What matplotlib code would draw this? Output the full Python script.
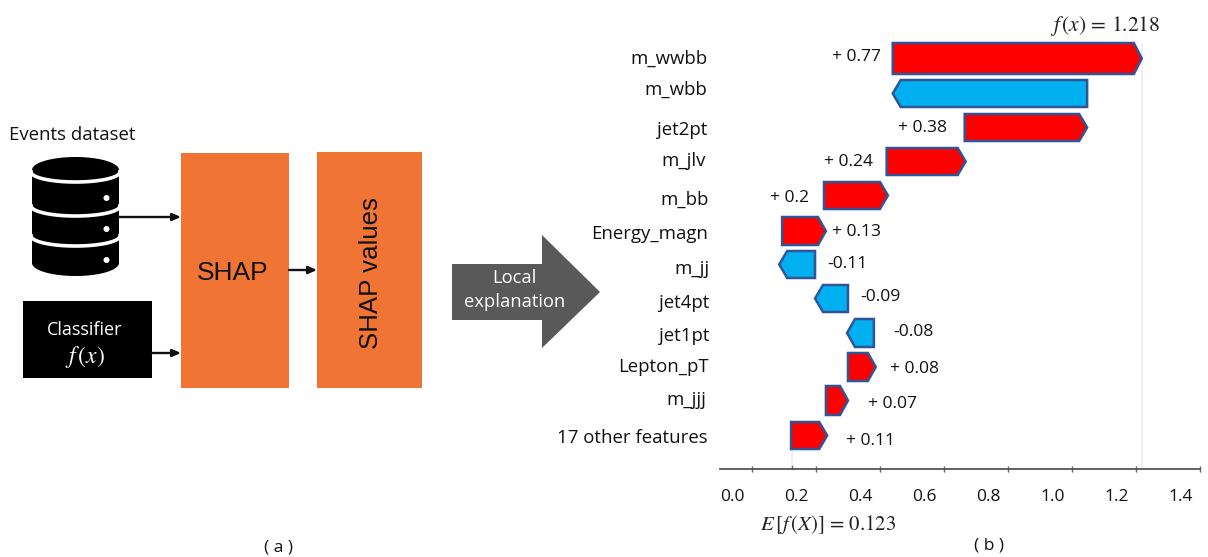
import numpy as np
import matplotlib
matplotlib.use("Agg")
import matplotlib.pyplot as plt
from matplotlib.patches import Rectangle, Polygon, Circle
from matplotlib.transforms import ScaledTranslation

plt.rcParams['font.family'] = ['Open Sans', 'DejaVu Sans']
plt.rcParams['mathtext.fontset'] = 'stix'

# ---------- data ----------
features = ['m_wwbb', 'm_wbb', 'jet2pt', 'm_jlv', 'm_bb', 'Energy_magn', 'm_jj',
            'jet4pt', 'jet1pt', 'Lepton_pT', 'm_jjj', '17 other features']
bar_start = [0.439, 1.047, 0.664, 0.420, 0.224, 0.093, 0.196, 0.299, 0.380, 0.299, 0.230, 0.121]
bar_end = [1.218, 0.439, 1.047, 0.667, 0.424, 0.230, 0.084, 0.196, 0.296, 0.386, 0.299, 0.234]
value_labels = ['+ 0.77', '', '+ 0.38', '+ 0.24', '+ 0.2', '+ 0.13', '-0.11',
                '-0.09', '-0.08', '+ 0.08', '+ 0.07', '+ 0.11']
tick_values = [0.0, 0.2, 0.4, 0.6, 0.8, 1.0, 1.2, 1.4]
tick_labels = ['0.0', '0.2', '0.4', '0.6', '0.8', '1.0', '1.2', '1.4']
base_value = 0.123
output_value = 1.218

# ---------- layout (pixels) ----------
W, H = 1208, 557
feature_xy = [(707, 59), (707, 90), (707, 130), (706, 161), (709, 200), (708, 234),
              (710, 269), (709, 303), (709, 336), (709, 367), (706, 400), (708, 438)]
value_xy = [(856, 57), None, (923, 128), (848, 162), (790, 198), (856, 232),
            (847, 264), (880, 297), (913, 332), (915, 369), (892, 404), (870, 441)]
row_y = [58.5, 93.5, 127.5, 161.5, 195.5, 231, 264.5, 298.5, 333, 367, 400.5, 435.5]
row_half = [15.5, 13.5, 13.5, 13.5, 13.5, 14, 13.5, 13.5, 14, 14, 14.5, 13.5]

RED, BLUE, EDGE = '#ff0000', '#00b0f0', '#2f5597'
ORANGE, GREY = '#f07434', '#595959'

fig = plt.figure(figsize=(W / 100, H / 100), dpi=100, facecolor='white')

# pixel canvas for the diagram
cv = fig.add_axes([0, 0, 1, 1])
cv.set_xlim(0, W)
cv.set_ylim(H, 0)
cv.axis('off')

# waterfall axes: x scale 321 px per unit, 0.0 at 752.5 px
px0, scale = 752.5, 321
ax_l, ax_r, ax_t, ax_b = 720, 1200, 20, 469
ax = fig.add_axes([ax_l / W, 1 - ax_b / H, (ax_r - ax_l) / W, (ax_b - ax_t) / H])
ax.set_facecolor('none')
ax.set_xlim((ax_l - px0) / scale, (ax_r - px0) / scale)
ax.set_ylim(ax_b, ax_t)  # y in figure pixels
for s in ['top', 'left', 'right']:
    ax.spines[s].set_visible(False)
ax.spines['bottom'].set_color('#555555')
ax.spines['bottom'].set_linewidth(1.3)
ax.set_yticks([])
ax.set_xticks(tick_values)
ax.set_xticklabels(tick_labels, fontsize=12.5, color='#111111')
ax.tick_params(axis='x', direction='inout', length=5, width=1, color='#666666', pad=12)
offset = ScaledTranslation(-19.5 / 100, 0, fig.dpi_scale_trans)
for lb in ax.get_xticklabels():
    lb.set_transform(lb.get_transform() + offset)
ax.plot([base_value] * 2, [ax_b - 3, ax_b], color='#666666', lw=1, clip_on=False)
ax.axvline(output_value, color='#ececec', lw=1.2, ymax=(ax_b - 45) / (ax_b - ax_t), zorder=0)
ax.plot([base_value] * 2, [449, ax_b], color='#ececec', lw=1.2, zorder=0)

tip = 8 / scale
for s, e, y, h in zip(bar_start, bar_end, row_y, row_half):
    d = 1 if e > s else -1
    pts = [(s, y - h), (e - d * tip, y - h), (e, y), (e - d * tip, y + h), (s, y + h)]
    ax.add_patch(Polygon(pts, closed=True, facecolor=RED if d > 0 else BLUE,
                         edgecolor=EDGE, linewidth=1.8, joinstyle='miter', zorder=3))

for name, (x, y) in zip(features, feature_xy):
    cv.text(x, y, name, ha='right', va='center', fontsize=13.4, color='#111111')
for lab, xy in zip(value_labels, value_xy):
    if xy is not None:
        cv.text(xy[0], xy[1], lab, ha='center', va='center', fontsize=12.6, color='#111111')

cv.text(1105, 26, r'$f\,(x)$ = 1.218', ha='center', va='center', fontsize=15.5,
        family='STIXGeneral', color='#222222')
cv.text(828, 525, r'$E\,[f\,(X)]$ = 0.123', ha='center', va='center', fontsize=15,
        family='STIXGeneral', color='#222222')

# ---------- left diagram ----------
cv.text(72, 135, 'Events dataset', ha='center', va='center', fontsize=13.4, color='#111111')

# database cylinder
cx, rx, ry = 75.5, 43.5, 13
cv.add_patch(Rectangle((cx - rx, 170), 2 * rx, 93, fc='black', ec='none'))
t = np.linspace(0, 2 * np.pi, 100)
for cy in (170, 263):
    cv.fill(cx + rx * np.cos(t), cy + ry * np.sin(t), color='black', lw=0)
ta = np.linspace(0, np.pi, 60)
for cy in (172, 206, 236):
    cv.plot(cx + rx * 1.02 * np.cos(ta), cy + 10 * np.sin(ta), color='white', lw=2.6)
for dy in (198, 229, 260):
    cv.add_patch(Circle((106.5, dy), 3, fc='white', ec='none', zorder=3))

# classifier box
cv.add_patch(Rectangle((23, 301), 129, 77, fc='black', ec='none'))
cv.text(85, 330, 'Classifier', ha='center', va='center', fontsize=13, color='white')
cv.text(85, 357, r'$f\,(x)$', ha='center', va='center', fontsize=17, color='white')

# orange boxes
cv.add_patch(Rectangle((181, 153), 108, 235, fc=ORANGE, ec='none'))
cv.add_patch(Rectangle((317, 152), 105, 236, fc=ORANGE, ec='none'))
cv.text(233, 273, 'SHAP', ha='center', va='center', fontsize=19,
        family='Liberation Sans', color='#111111')
cv.text(371, 273, 'SHAP values', ha='center', va='center', fontsize=18.6, rotation=90,
        family='Liberation Sans', color='#111111')

# arrows
for x0, x1, y in [(119, 181, 217), (152, 181, 353), (289, 317, 270)]:
    cv.annotate('', xy=(x1, y), xytext=(x0, y),
                arrowprops=dict(arrowstyle='-|>,head_length=0.5,head_width=0.22',
                                color='#111111', lw=1.7, shrinkA=0, shrinkB=0))

# big arrow
cv.add_patch(Polygon([(452, 264), (542, 264), (542, 235), (600, 292), (542, 348),
                      (542, 320), (452, 320)], closed=True, fc=GREY, ec='none'))
cv.text(514, 278, 'Local', ha='center', va='center', fontsize=13.2, color='white')
cv.text(515, 302, 'explanation', ha='center', va='center', fontsize=13.2, color='white')

cv.text(279, 547, '( a )', ha='center', va='center', fontsize=12.5, color='#111111')
cv.text(989, 545, '( b )', ha='center', va='center', fontsize=12.5, color='#111111')

fig.savefig('out.png', dpi=100)
